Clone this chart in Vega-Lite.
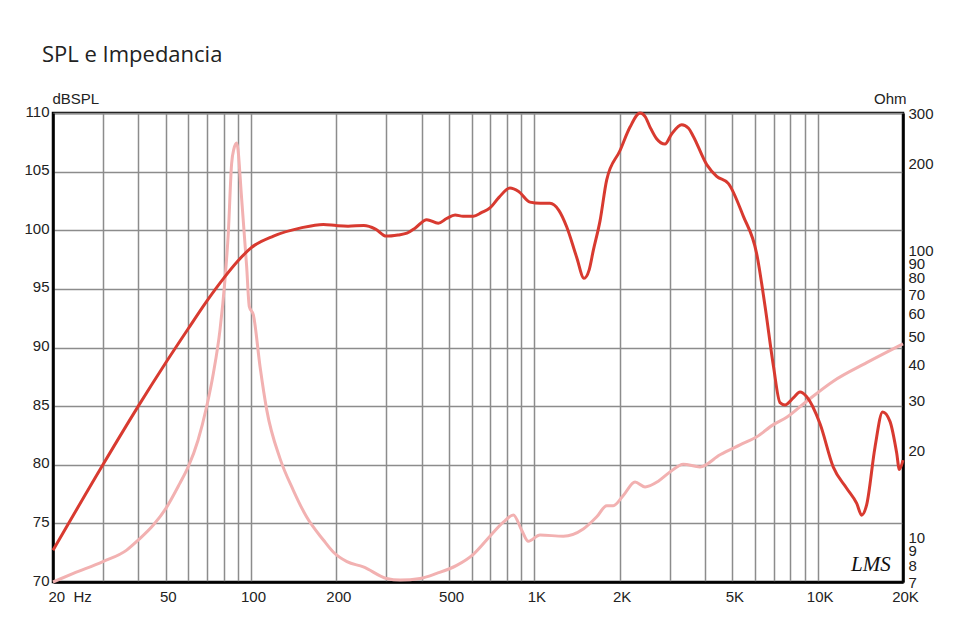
{
  "$schema": "https://vega.github.io/schema/vega-lite/v6.json",
  "width": 850,
  "height": 469,
  "autosize": {"type": "none"},
  "padding": {"left": 53, "top": 113, "right": 57, "bottom": 57},
  "background": "white",
  "title": {
    "text": "SPL e Impedancia",
    "anchor": "start",
    "frame": "group",
    "font": "Open Sans",
    "fontSize": 22,
    "fontWeight": "normal",
    "color": "#222222",
    "baseline": "alphabetic",
    "offset": 7,
    "dx": -11
  },
  "config": {
    "view": {"stroke": "black", "strokeWidth": 2.5},
    "axis": {
      "labelFont": "Liberation Sans",
      "labelFontSize": 15,
      "labelColor": "#222222",
      "titleFont": "Liberation Sans",
      "titleFontSize": 15,
      "titleFontWeight": "normal",
      "titleColor": "#222222",
      "domainColor": "black",
      "domainWidth": 2.5,
      "ticks": false,
      "gridColor": "#8c8c8c",
      "gridWidth": 1.5,
      "gridOpacity": 1,
      "labelOverlap": false,
      "labelFlush": false,
      "labelBound": false
    }
  },
  "datasets": {
    "spl": [
      {"freq": 20, "spl": 72.7}, {"freq": 30, "spl": 80.0}, {"freq": 40, "spl": 85.0}, {"freq": 50, "spl": 88.7},
      {"freq": 60, "spl": 91.6}, {"freq": 70, "spl": 94.0}, {"freq": 80, "spl": 95.9}, {"freq": 90, "spl": 97.4},
      {"freq": 100, "spl": 98.5}, {"freq": 120, "spl": 99.5}, {"freq": 150, "spl": 100.2}, {"freq": 180, "spl": 100.5},
      {"freq": 200, "spl": 100.4}, {"freq": 220, "spl": 100.35}, {"freq": 250, "spl": 100.4}, {"freq": 275, "spl": 100.1},
      {"freq": 300, "spl": 99.5}, {"freq": 330, "spl": 99.6}, {"freq": 355, "spl": 99.75}, {"freq": 380, "spl": 100.2},
      {"freq": 417, "spl": 100.9}, {"freq": 458, "spl": 100.6}, {"freq": 490, "spl": 101.0}, {"freq": 525, "spl": 101.3},
      {"freq": 560, "spl": 101.2}, {"freq": 609, "spl": 101.2}, {"freq": 650, "spl": 101.5}, {"freq": 697, "spl": 101.9},
      {"freq": 750, "spl": 102.8}, {"freq": 820, "spl": 103.6}, {"freq": 880, "spl": 103.3}, {"freq": 965, "spl": 102.4},
      {"freq": 1050, "spl": 102.3}, {"freq": 1135, "spl": 102.3}, {"freq": 1220, "spl": 101.7}, {"freq": 1300, "spl": 100.3},
      {"freq": 1410, "spl": 97.7}, {"freq": 1497, "spl": 95.9}, {"freq": 1560, "spl": 96.6}, {"freq": 1615, "spl": 98.3},
      {"freq": 1705, "spl": 100.8}, {"freq": 1800, "spl": 104.3}, {"freq": 2006, "spl": 106.8}, {"freq": 2176, "spl": 108.8},
      {"freq": 2360, "spl": 110.0}, {"freq": 2460, "spl": 109.7}, {"freq": 2560, "spl": 108.8}, {"freq": 2700, "spl": 107.8},
      {"freq": 2891, "spl": 107.35}, {"freq": 3050, "spl": 108.2}, {"freq": 3311, "spl": 109.0}, {"freq": 3500, "spl": 108.7},
      {"freq": 3640, "spl": 108.0}, {"freq": 4058, "spl": 105.6}, {"freq": 4400, "spl": 104.6}, {"freq": 4833, "spl": 104.0},
      {"freq": 5462, "spl": 101.2}, {"freq": 6090, "spl": 98.0}, {"freq": 6520, "spl": 93.5}, {"freq": 6980, "spl": 88.4},
      {"freq": 7360, "spl": 85.3}, {"freq": 7665, "spl": 85.1}, {"freq": 8200, "spl": 85.7}, {"freq": 8660, "spl": 86.2},
      {"freq": 9144, "spl": 85.8}, {"freq": 10190, "spl": 83.5}, {"freq": 11350, "spl": 79.8}, {"freq": 12650, "spl": 78.0},
      {"freq": 13730, "spl": 76.7}, {"freq": 14290, "spl": 75.7}, {"freq": 14890, "spl": 76.6}, {"freq": 15930, "spl": 81.5},
      {"freq": 16950, "spl": 84.5}, {"freq": 17990, "spl": 83.7}, {"freq": 19000, "spl": 81.0}, {"freq": 19410, "spl": 79.6},
      {"freq": 20000, "spl": 80.4}
    ],
    "imp": [
      {"freq": 20, "imp": 7.0}, {"freq": 23.6, "imp": 7.5}, {"freq": 30, "imp": 8.24}, {"freq": 36.4, "imp": 9.04},
      {"freq": 40, "imp": 9.8}, {"freq": 45.2, "imp": 11.05}, {"freq": 50, "imp": 12.6}, {"freq": 56, "imp": 15.4},
      {"freq": 60, "imp": 17.6}, {"freq": 65, "imp": 21.8}, {"freq": 69.7, "imp": 28.5}, {"freq": 73.6, "imp": 37.2},
      {"freq": 77.7, "imp": 52.8}, {"freq": 80.9, "imp": 78.8}, {"freq": 83.1, "imp": 114}, {"freq": 85.4, "imp": 200},
      {"freq": 87, "imp": 225}, {"freq": 89, "imp": 236}, {"freq": 92.7, "imp": 150}, {"freq": 96.5, "imp": 87.6},
      {"freq": 98.6, "imp": 63.6}, {"freq": 101.9, "imp": 59.5}, {"freq": 107.6, "imp": 39.3}, {"freq": 113.6, "imp": 27.8},
      {"freq": 126.5, "imp": 18.85}, {"freq": 141, "imp": 14.6}, {"freq": 157, "imp": 11.8}, {"freq": 180, "imp": 9.8},
      {"freq": 195, "imp": 8.9}, {"freq": 218, "imp": 8.24}, {"freq": 249, "imp": 7.9}, {"freq": 301, "imp": 7.2},
      {"freq": 336, "imp": 7.11}, {"freq": 395, "imp": 7.2}, {"freq": 452, "imp": 7.5}, {"freq": 532, "imp": 8.0},
      {"freq": 609, "imp": 8.74}, {"freq": 697, "imp": 10.1}, {"freq": 777, "imp": 11.3}, {"freq": 843, "imp": 11.98},
      {"freq": 902, "imp": 10.6}, {"freq": 952, "imp": 9.7}, {"freq": 1047, "imp": 10.2}, {"freq": 1265, "imp": 10.1},
      {"freq": 1488, "imp": 10.7}, {"freq": 1660, "imp": 11.8}, {"freq": 1800, "imp": 12.9}, {"freq": 1899, "imp": 12.9},
      {"freq": 2060, "imp": 14.0}, {"freq": 2266, "imp": 15.6}, {"freq": 2458, "imp": 15.0}, {"freq": 2738, "imp": 15.7},
      {"freq": 3011, "imp": 16.9}, {"freq": 3355, "imp": 18.0}, {"freq": 3842, "imp": 17.6}, {"freq": 4522, "imp": 19.4},
      {"freq": 5318, "imp": 21.0}, {"freq": 6092, "imp": 22.4}, {"freq": 6973, "imp": 24.7}, {"freq": 7773, "imp": 26.2},
      {"freq": 9144, "imp": 29.8}, {"freq": 11350, "imp": 35.0}, {"freq": 14890, "imp": 40.6}, {"freq": 20000, "imp": 47.2}
    ],
    "logo": [
      {"freq": 15400, "spl": 71.45, "label": "LMS"}
    ]
  },
  "layer": [
    {
      "data": {"name": "imp"},
      "mark": {"type": "line", "color": "#f2b1b1", "strokeWidth": 3, "interpolate": "monotone"},
      "encoding": {
        "x": {
          "field": "freq", "type": "quantitative",
          "scale": {"type": "log", "domain": [20, 20000], "nice": false},
          "axis": {
            "title": null,
            "grid": true,
            "values": [20, 30, 40, 50, 60, 70, 80, 90, 100, 200, 300, 400, 500, 600, 700, 800, 900, 1000, 2000, 3000, 4000, 5000, 6000, 7000, 8000, 9000, 10000, 20000],
            "labelExpr": "datum.value == 20 ? '20\u00a0\u00a0Hz' : datum.value == 50 ? '50' : datum.value == 100 ? '100' : datum.value == 200 ? '200' : datum.value == 500 ? '500' : datum.value == 1000 ? '1K' : datum.value == 2000 ? '2K' : datum.value == 5000 ? '5K' : datum.value == 10000 ? '10K' : datum.value == 20000 ? '20K' : ''",
            "labelPadding": 7,
            "labelAlign": {"condition": {"test": "datum.value == 20", "value": "left"}, "value": "center"},
            "labelOffset": {"condition": {"test": "datum.value == 20", "value": -5}, "value": 2}
          }
        },
        "y": {
          "field": "imp", "type": "quantitative",
          "scale": {"type": "log", "domain": [7, 300], "nice": false},
          "axis": {
            "orient": "right",
            "grid": false,
            "values": [7, 8, 9, 10, 20, 30, 40, 50, 60, 70, 80, 90, 100, 200, 300],
            "format": "d",
            "labelPadding": 5,
            "labelAlign": "left",
            "labelBaseline": "middle",
            "title": "Ohm",
            "titleAngle": 0,
            "titleAlign": "right",
            "titleBaseline": "alphabetic",
            "titleX": 3,
            "titleY": -10
          }
        }
      }
    },
    {
      "data": {"name": "spl"},
      "mark": {"type": "line", "color": "#d83a30", "strokeWidth": 3, "interpolate": "monotone"},
      "encoding": {
        "x": {"field": "freq", "type": "quantitative"},
        "y": {
          "field": "spl", "type": "quantitative",
          "scale": {"domain": [70, 110], "nice": false},
          "axis": {
            "orient": "left",
            "grid": true,
            "values": [70, 75, 80, 85, 90, 95, 100, 105, 110],
            "labelPadding": 4,
            "labelOffset": -2,
            "title": "dBSPL",
            "titleAngle": 0,
            "titleAlign": "left",
            "titleBaseline": "alphabetic",
            "titleX": -1,
            "titleY": -10
          }
        }
      }
    },
    {
      "data": {"name": "logo"},
      "mark": {"type": "text", "font": "Liberation Serif", "fontStyle": "italic", "fontSize": 21, "color": "#111111", "baseline": "middle", "align": "center"},
      "encoding": {
        "x": {"field": "freq", "type": "quantitative"},
        "y": {"field": "spl", "type": "quantitative", "scale": {"domain": [70, 110], "nice": false}, "axis": null},
        "text": {"field": "label"}
      }
    }
  ],
  "resolve": {"scale": {"y": "independent"}}
}
